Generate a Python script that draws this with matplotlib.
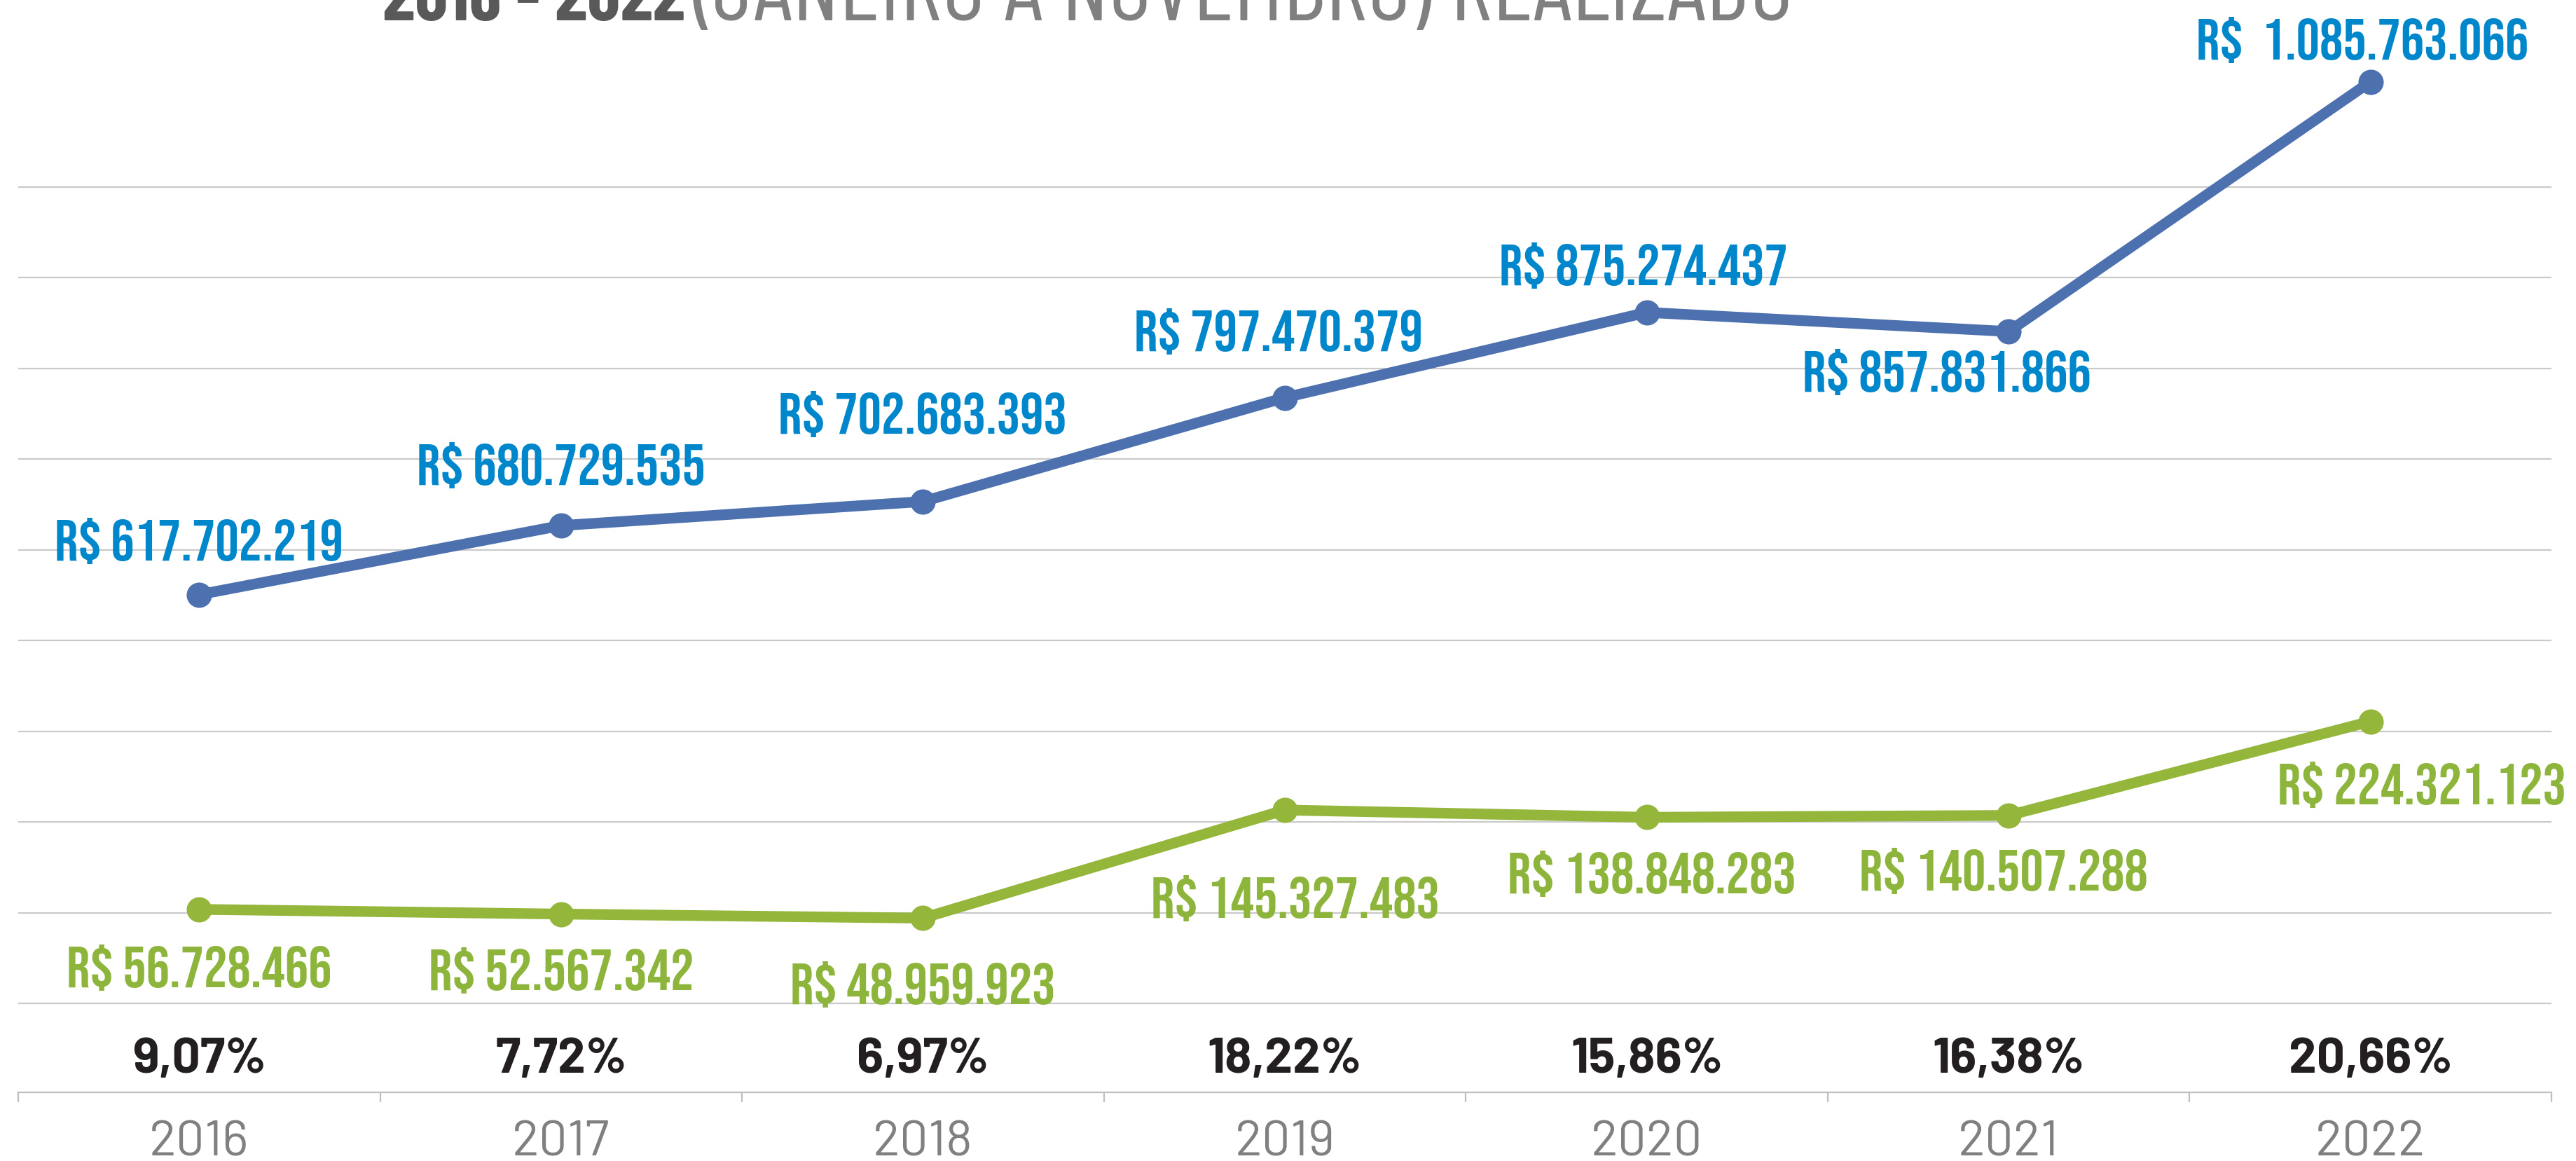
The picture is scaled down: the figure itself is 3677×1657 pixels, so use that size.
import matplotlib
matplotlib.use("Agg")
import matplotlib.pyplot as plt
from matplotlib import font_manager
from matplotlib.font_manager import FontProperties
from matplotlib.textpath import TextPath

# valores realizados jan-nov (R$)
years = ["2016", "2017", "2018", "2019", "2020", "2021", "2022"]
total_realizado = [617702219, 680729535, 702683393, 797470379, 875274437, 857831866, 1085763066]
parcela = [56728466, 52567342, 48959923, 145327483, 138848283, 140507288, 224321123]
percentuais = ["9,07%", "7,72%", "6,97%", "18,22%", "15,86%", "16,38%", "20,66%"]

BLUE_LINE, BLUE_TXT = "#4D71AF", "#0086CB"
GREEN_LINE, GREEN_TXT = "#94B63B", "#8DB43B"
GRID = "#CACACA"

W, H = 3677, 1658
fig = plt.figure(figsize=(W / 100, H / 100), dpi=100)
fig.patch.set_facecolor("white")

available = {f.name for f in font_manager.fontManager.ttflist}


def pick(cands):
    for name, weight in cands:
        if name in available:
            return name, weight
    return "DejaVu Sans", cands[0][1]


val_font = pick([("Bebas Neue", "normal"), ("Oswald", "medium"), ("Fjalla One", "normal"),
                 ("Barlow Condensed", "semibold"), ("Roboto Condensed", "bold"), ("Archivo Narrow", "bold")])
pct_font = pick([("Barlow", "bold"), ("Barlow Semi Condensed", "bold"), ("Roboto", "bold")])
year_font = pick([("Barlow", "normal"), ("Barlow Semi Condensed", "normal"), ("Roboto", "normal")])
title_font = pick([("Barlow Condensed", "normal"), ("Roboto Condensed", "normal"), ("Oswald", "light")])
title_bold = pick([("Barlow Condensed", "bold"), ("Roboto Condensed", "bold"), ("Oswald", "semibold")])


def fit(sample, font, width_px, cap_px=None, slack=1.0):
    # font size (pt) so the ink of the sample is about width_px wide
    prop = FontProperties(family=font[0], weight=font[1])
    w = TextPath((0, 0), sample, size=100, prop=prop).get_extents().width
    size = width_px * 72 / w * slack
    if cap_px:
        h = TextPath((0, 0), "0", size=100, prop=prop).get_extents().height
        size = min(size, cap_px * 72 / h)
    return size


def brl(v):
    s = f"{v:,}".replace(",", ".")
    return ("R$  " if v >= 1e9 else "R$ ") + s


# base axes: gridlines + category axis
ax = fig.add_axes([26 / W, (H - 1560) / H, (3642 - 26) / W, 1560 / H])
ax.set_xlim(-0.5, len(years) - 0.5)
ax.set_ylim(-127 / 129.5, 1433 / 129.5)
ax.set_yticks(range(10))
ax.grid(axis="y", color=GRID, linewidth=1.6)
ax.set_axisbelow(True)
ax.tick_params(axis="y", length=0, labelleft=False)
for s in ("left", "right", "top"):
    ax.spines[s].set_visible(False)
ax.spines["bottom"].set_color("#BFBFBF")
ax.spines["bottom"].set_linewidth(1.6)
ax.set_xticks(range(len(years)))
ax.set_xticklabels([])
ax.tick_params(axis="x", which="major", length=0)
ax.set_xticks([i - 0.5 for i in range(len(years) + 1)], minor=True)
ax.tick_params(axis="x", which="minor", length=10, width=1.6, color="#BFBFBF", direction="out")

yr_size = fit("2016", year_font, 150, 52)
pct_size = fit("9,07%", pct_font, 190, 51, slack=1.03)
for i, (yr, pc) in enumerate(zip(years, percentuais)):
    ax.annotate(yr, xy=(i, 0), xycoords=("data", "axes fraction"), xytext=(0, -90),
                textcoords="offset pixels", ha="center", va="baseline", annotation_clip=False,
                fontsize=yr_size, family=year_font[0], weight=year_font[1], color="#808080")
    ax.annotate(pc, xy=(i, 0), xycoords=("data", "axes fraction"), xytext=(0, 29),
                textcoords="offset pixels", ha="center", va="baseline", annotation_clip=False,
                fontsize=pct_size, family=pct_font[0], weight=pct_font[1], color="#231F20")

# two series on their own scales
axb = ax.twinx()
axg = ax.twinx()
axb.set_ylim(163.5e6, 1161.0e6)
axg.set_ylim(-106.4e6, 868.2e6)
for a in (axb, axg):
    a.set_axis_off()

x = list(range(len(years)))
axb.plot(x, total_realizado, color=BLUE_LINE, lw=11, marker="o", ms=26, mew=0)
axg.plot(x, parcela, color=GREEN_LINE, lw=11, marker="o", ms=26, mew=0)

val_size = fit("R$ 617.702.219", val_font, 406, 60, slack=1.06)
blue_off = [(0, 50), (0, 59), (0, 98), (-9, 68), (-5, 40), (-88, -85), (-12, 33)]
green_off = [(0, -110), (0, -107), (0, -122), (15, -153), (7, -108), (-7, -106), (73, -117)]
for i in x:
    axb.annotate(brl(total_realizado[i]), xy=(i, total_realizado[i]), xytext=blue_off[i],
                 textcoords="offset pixels", ha="center", va="baseline", annotation_clip=False,
                 fontsize=val_size, family=val_font[0], weight=val_font[1], color=BLUE_TXT)
    axg.annotate(brl(parcela[i]), xy=(i, parcela[i]), xytext=green_off[i],
                 textcoords="offset pixels", ha="center", va="baseline", annotation_clip=False,
                 fontsize=val_size, family=val_font[0], weight=val_font[1], color=GREEN_TXT)

# title, cut by the top edge as in the original
t_size = fit("(JANEIRO A NOVEMBRO) REALIZADO", title_font, 1564)
tb_size = fit("2016 - 2022", title_bold, 427)
fig.text(546 / W, 1 - 29 / H, "2016 - 2022", ha="left", va="baseline", fontsize=tb_size,
         family=title_bold[0], weight=title_bold[1], color="#595959")
fig.text(988 / W, 1 - 29 / H, "(JANEIRO A NOVEMBRO) REALIZADO", ha="left", va="baseline",
         fontsize=t_size, family=title_font[0], weight=title_font[1], color="#808080")

fig.savefig("out.png", dpi=100, facecolor="white")
